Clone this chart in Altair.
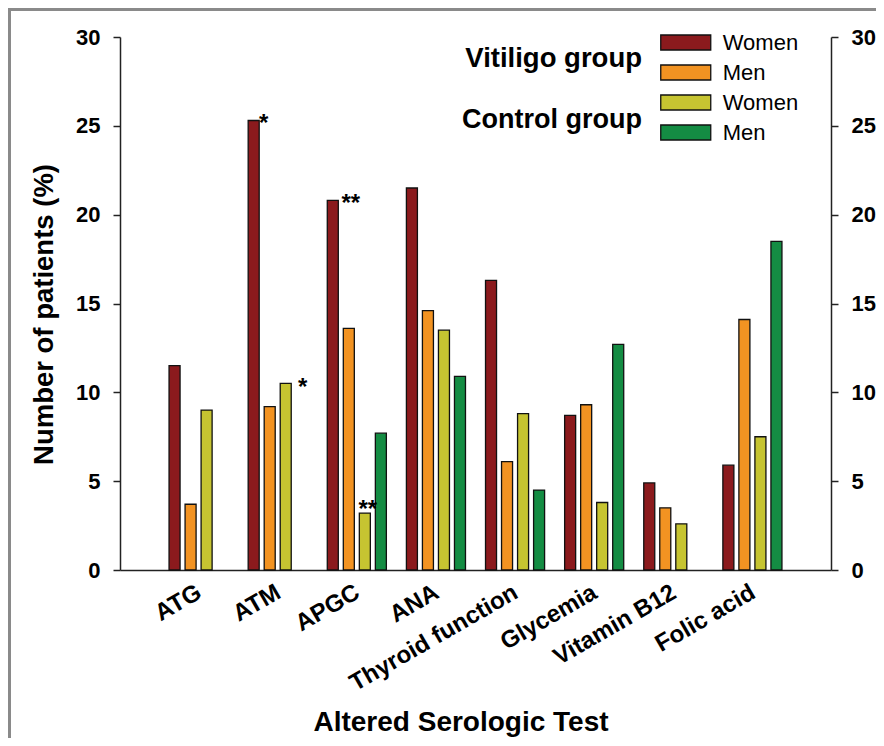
import altair as alt
import pandas as pd

# ---------------- data ----------------
categories = ["ATG", "ATM", "APGC", "ANA", "Thyroid function", "Glycemia", "Vitamin B12", "Folic acid"]
series = ["Vitiligo Women", "Vitiligo Men", "Control Women", "Control Men"]
vitiligo_women = [11.5, 25.3, 20.8, 21.5, 16.3, 8.7, 4.9, 5.9]
vitiligo_men = [3.7, 9.2, 13.6, 14.6, 6.1, 9.3, 3.5, 14.1]
control_women = [9.0, 10.5, 3.2, 13.5, 8.8, 3.8, 2.6, 7.5]
control_men = [None, None, 7.7, 10.9, 4.5, 12.7, None, 18.5]
y_ticks = [0, 5, 10, 15, 20, 25, 30]

star_categories = ["ATM", "ATM", "APGC", "APGC"]
star_series = ["Vitiligo Women", "Control Women", "Vitiligo Women", "Control Women"]
star_labels = ["*", "*", "**", "**"]

group_titles = ["Vitiligo group", "Control group"]

# ---------------- styles ----------------
colors = ["#8B1A1D", "#F29322", "#C6C431", "#148C43"]
star_style = [  # (dx, dy)
    (10, 3),
    (17, 5),
    (18, 4),
    (3, -3),
]
FONT = "Liberation Sans"

rows = []
for s, vals in zip(series, [vitiligo_women, vitiligo_men, control_women, control_men]):
    for c, v in zip(categories, vals):
        if v is not None:
            rows.append({"test": c, "series": s, "value": v})
df = pd.DataFrame(rows)

val_lookup = {(r["test"], r["series"]): r["value"] for r in rows}

x_scale = alt.Scale(domain=categories, paddingInner=0.2532, paddingOuter=0.62)
xo_scale = alt.Scale(domain=series, paddingInner=0.3125, paddingOuter=0)
y_scale = alt.Scale(domain=[0, 30], nice=False, zero=True)

x_axis = alt.Axis(title="Altered Serologic Test", labelAngle=-30, labelAlign="right",
                  labelBaseline="top", labelPadding=10, labelOffset=-5, ticks=False, grid=False,
                  labelFont=FONT, labelFontWeight="bold", labelFontSize=24, labelColor="black",
                  titleFont=FONT, titleFontWeight="bold", titleFontSize=28, titleColor="black",
                  titleX=340.5, titleY=160, titleAlign="center", titleBaseline="alphabetic",
                  domainColor="#222222", domainWidth=1.5, labelLimit=400, orient="bottom")

bars = alt.Chart(df).mark_bar(stroke="#111111", strokeWidth=1.3).encode(
    x=alt.X("test:N", scale=x_scale, sort=categories, axis=x_axis),
    xOffset=alt.XOffset("series:N", scale=xo_scale, sort=series),
    y=alt.Y("value:Q", scale=y_scale,
            axis=alt.Axis(title="Number of patients (%)", values=y_ticks, orient="left", grid=False,
                          tickSize=7, tickWidth=1.5, tickColor="#222222",
                          domainColor="#222222", domainWidth=1.5, labelPadding=13,
                          labelFont=FONT, labelFontWeight="bold", labelFontSize=22, labelColor="black",
                          titleFont=FONT, titleFontWeight="bold", titleFontSize=27.5, titleColor="black",
                          titleX=-68, titleY=277, titleAlign="center", titleBaseline="alphabetic",
                          titleAngle=270)),
    color=alt.Color("series:N", scale=alt.Scale(domain=series, range=colors), sort=series,
                    legend=alt.Legend(orient="none", legendX=554.75, legendY=-5.5, title=None,
                                      symbolType="M-3.333,-1H3.333V1H-3.333Z", symbolSize=225,
                                      symbolStrokeColor="#111111", symbolStrokeWidth=1.3,
                                      symbolOpacity=1,
                                      labelFont=FONT, labelFontSize=22, labelColor="black",
                                      labelOffset=26, rowPadding=8, padding=0,
                                      labelExpr="split(datum.label, ' ')[1]")),
)

layers = [bars]
for i, (c, s, t) in enumerate(zip(star_categories, star_series, star_labels)):
    sdf = pd.DataFrame([{"test": c, "series": s, "value": val_lookup[(c, s)], "label": t}])
    dx, dy = star_style[i]
    yaxis = None
    if i == 0:
        yaxis = alt.Axis(title=None, values=y_ticks, orient="right", grid=False,
                         tickSize=7, tickWidth=1.5, tickColor="#222222",
                         domainColor="#222222", domainWidth=1.5, labelPadding=13,
                         labelFont=FONT, labelFontWeight="bold", labelFontSize=22, labelColor="black")
    layer = alt.Chart(sdf).mark_text(font=FONT, fontSize=24, fontWeight="bold", color="black",
                                     align="center", baseline="middle", dx=dx, dy=dy).encode(
        x=alt.X("test:N", scale=x_scale, sort=categories, axis=x_axis),
        xOffset=alt.XOffset("series:N", scale=xo_scale, sort=series),
        y=alt.Y("value:Q", scale=y_scale, axis=yaxis),
        text="label:N",
    )
    layers.append(layer)

# group titles of the legend
gt = pd.DataFrame({"t": group_titles})
title_v = alt.Chart(gt).transform_filter(alt.datum.t == group_titles[0]).mark_text(
    font=FONT, fontSize=27.5, fontWeight="bold", color="black", align="right", baseline="alphabetic"
).encode(x=alt.value(522), y=alt.value(30), text="t:N")
title_c = alt.Chart(gt).transform_filter(alt.datum.t == group_titles[1]).mark_text(
    font=FONT, fontSize=27, fontWeight="bold", color="black", align="right", baseline="alphabetic"
).encode(x=alt.value(522), y=alt.value(91), text="t:N")
layers += [title_v, title_c]

# grey frame around the figure
frame_df = pd.DataFrame({"k": [0]})
frame_left = alt.Chart(frame_df).mark_rule(color="#8a8a8a", strokeWidth=3).encode(
    x=alt.value(-110.5), y=alt.value(-29), y2=alt.value(710))
frame_top = alt.Chart(frame_df).mark_rule(color="#8a8a8a", strokeWidth=3).encode(
    x=alt.value(-112), x2=alt.value(760), y=alt.value(-27.5))
layers += [frame_left, frame_top]

chart = alt.layer(*layers).resolve_axis(y="independent").properties(
    width=711, height=533,
    autosize=alt.AutoSizeParams(type="none"),
    padding={"left": 112, "top": 29, "right": 45, "bottom": 168},
).configure(background="white", view=alt.ViewConfig(stroke=None))

chart.save("out.html", embed_options={"renderer": "svg", "actions": False})
